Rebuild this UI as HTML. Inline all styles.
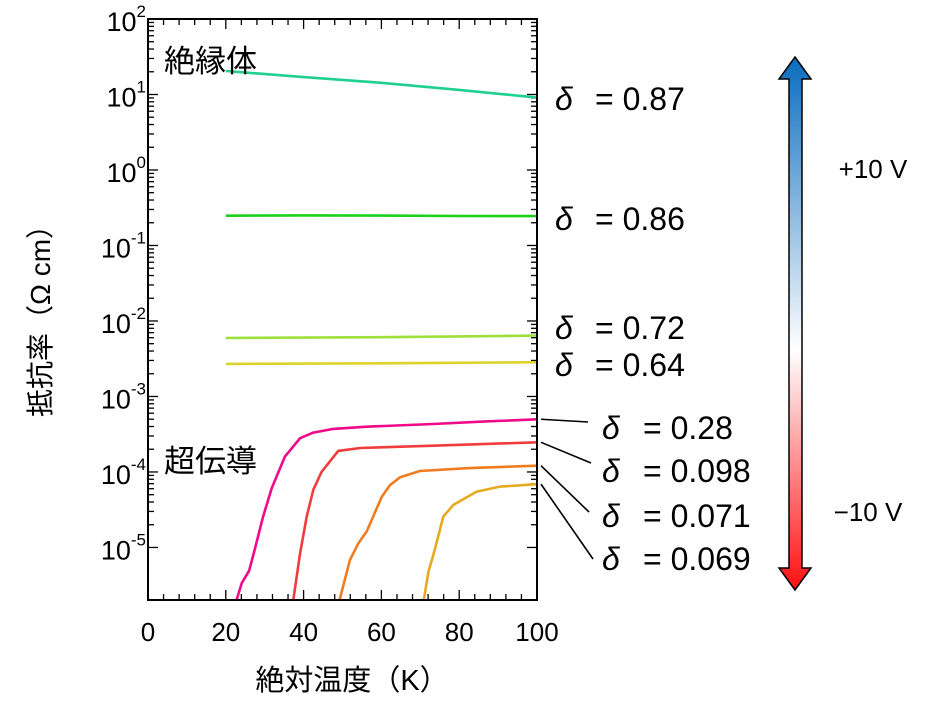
<!DOCTYPE html>
<html><head><meta charset="utf-8"><style>
body{margin:0;background:#fff;}
svg text{font-family:"Liberation Sans","Noto Sans CJK JP",sans-serif;fill:#000;}
</style></head><body>
<svg id="chart" width="936" height="715" viewBox="0 0 936 715" xmlns="http://www.w3.org/2000/svg">
<defs>
<linearGradient id="vg" x1="0" y1="0" x2="0" y2="1">
<stop offset="0" stop-color="#0a6cbf"/><stop offset="0.55" stop-color="#ffffff"/><stop offset="1" stop-color="#ff1010"/>
</linearGradient>
<clipPath id="pc"><rect x="148" y="19" width="389" height="581"/></clipPath>
</defs>
<g id="ticks"></g>
<g id="series" clip-path="url(#pc)"></g>
<rect x="148" y="19" width="389" height="581" fill="none" stroke="#000" stroke-width="2"/>
<g id="labels"></g>
<text x="164" y="72" font-size="31">絶縁体</text>
<text x="164" y="472" font-size="31">超伝導</text>
<text x="352" y="690" font-size="29" text-anchor="middle">絶対温度（K）</text>
<text transform="translate(50,314) rotate(-90)" font-size="28" text-anchor="middle">抵抗率（Ω cm）</text>
<g>
<path d="M795,57 L811,79 L802,79 L802,568 L811,568 L795,590 L779,568 L789,568 L789,79 L779,79 Z" fill="url(#vg)" stroke="#000" stroke-width="1.5"/>
</g>
<text x="873" y="178" font-size="26" text-anchor="middle">+10 V</text>
<text x="868" y="521" font-size="26" text-anchor="middle">−10 V</text>
</svg>
<script>
const deltaLabels=["0.87","0.86","0.72","0.64","0.28","0.098","0.071","0.069"];
const seriesColors=["#1fd08f","#1ad21a","#9ee03a","#dcd42a","#ee0a8a","#f03c3c","#f07c20","#e6aa20"];
const temps87=[20,40,60,80,100];
const rho87=[20.5,17,14.3,11.5,9.1];
const temps86=[20,40,60,80,100];
const rho86=[0.248,0.25,0.249,0.246,0.245];
const temps72=[20,60,100];
const rho72=[5.95e-3,6.1e-3,6.4e-3];
const temps64=[20,60,100];
const rho64=[2.7e-3,2.75e-3,2.84e-3];
const temps28=[22,24.1,26,27.5,29.6,31.8,35.2,39.1,42.5,47.6,56.2,73.3,86.1,100];
const rho28=[1.5e-6,3.36e-6,4.9e-6,9.7e-6,2.56e-5,6.1e-5,1.6e-4,2.8e-4,3.32e-4,3.72e-4,3.98e-4,4.32e-4,4.64e-4,4.99e-4];
const temps098=[37,39.1,40.8,42.5,44.6,48.9,54.5,73.3,100];
const rho098=[1.5e-6,8.4e-6,2.56e-5,5.8e-5,1.0e-4,1.9e-4,2.08e-4,2.23e-4,2.47e-4];
const temps071=[48.6,51.9,54.1,56.2,60.1,62.2,64.8,69.9,82,100];
const rho071=[1.5e-6,6.8e-6,1.14e-5,1.62e-5,4.7e-5,6.7e-5,8.5e-5,1.03e-4,1.12e-4,1.21e-4];
const temps069=[70.5,72.1,73.8,75.9,78.5,84.5,90.5,94.8,100];
const rho069=[1.5e-6,4.8e-6,9.7e-6,2.56e-5,3.66e-5,5.5e-5,6.4e-5,6.6e-5,6.9e-5];
const xTicks=[0,20,40,60,80,100];
const yDecades=[2,1,0,-1,-2,-3,-4,-5];

const NS="http://www.w3.org/2000/svg";
const X0=148,X1=537,YT=19,YB=600,LMAX=2,LMIN=-5.696;
function xs(t){return X0+(t)/100*(X1-X0);}
function ys(v){return YT+(LMAX-Math.log10(v))/(LMAX-LMIN)*(YB-YT);}
function mk(tag,attrs,parent){const e=document.createElementNS(NS,tag);for(const k in attrs)e.setAttribute(k,attrs[k]);parent.appendChild(e);return e;}
const tg=document.getElementById('ticks'),sg=document.getElementById('series'),lg=document.getElementById('labels');
for(let t=0;t<=100;t+=4){
  const major=xTicks.includes(t);const L=major?10:6;const x=xs(t);
  const a=mk('line',{x1:x,x2:x,y1:YB,y2:YB-L,stroke:'#000','stroke-width':1.3},tg);
  
  
  const b=mk('line',{x1:x,x2:x,y1:YT,y2:YT+L,stroke:'#000','stroke-width':1.3},tg);
  
  
}
xTicks.forEach(t=>{
  const e=mk('text',{x:xs(t),y:641,'font-size':26,'text-anchor':'middle'},lg);e.textContent=t;
  
  
});
yDecades.forEach(d=>{
  for(let m=1;m<10;m++){
    const v=m*Math.pow(10,d);const lv=Math.log10(v);if(lv>LMAX+1e-6||lv<LMIN)continue;
    const y=ys(v);const L=m===1?10:6;
    const a=mk('line',{x1:X0,x2:X0+L,y1:y,y2:y,stroke:'#000','stroke-width':1.3},tg);
    
    
    const b=mk('line',{x1:X1,x2:X1-L,y1:y,y2:y,stroke:'#000','stroke-width':1.3},tg);
    
    
  }
  const t=mk('text',{x:146,y:ys(Math.pow(10,d))+12,'font-size':27,'text-anchor':'end'},lg);
  
  
  t.textContent='10';
  const s=mk('tspan',{'font-size':17,dy:-14},t);s.textContent=String(d);
});
const allT=[temps87,temps86,temps72,temps64,temps28,temps098,temps071,temps069];
const allR=[rho87,rho86,rho72,rho64,rho28,rho098,rho071,rho069];
allT.forEach((ts,i)=>{
  const pts=ts.map((t,j)=>xs(t).toFixed(1)+','+ys(allR[i][j]).toFixed(1)).join(' ');
  const p=mk('polyline',{points:pts,fill:'none',stroke:seriesColors[i],'stroke-width':2.6,'stroke-linejoin':'round'},sg);
  
  
});
const upperY=[98,218,327,364];
for(let i=0;i<4;i++){
  const t=mk('text',{x:555,y:upperY[i]+12,'font-size':32},lg);
  
  
  const d=mk('tspan',{'font-style':'italic'},t);d.textContent='δ';
  const r=mk('tspan',{x:595},t);r.textContent='= '+deltaLabels[i];
}
const lowerY=[427,470,515,558];
const leaderEnd=[[588,422],[591,463],[589,512],[593,559]];
for(let i=0;i<4;i++){
  const k=i+4;const rs=allR[k];
  const ln=mk('line',{x1:X1+4,y1:ys(rs[rs.length-1]),x2:leaderEnd[i][0],y2:leaderEnd[i][1],stroke:'#000','stroke-width':1.6},lg);
  
  
  const t=mk('text',{x:602,y:lowerY[i]+12,'font-size':32},lg);
  
  
  const d=mk('tspan',{'font-style':'italic'},t);d.textContent='δ';
  const r=mk('tspan',{x:643},t);r.textContent='= '+deltaLabels[k];
}
</script>
</body></html>
